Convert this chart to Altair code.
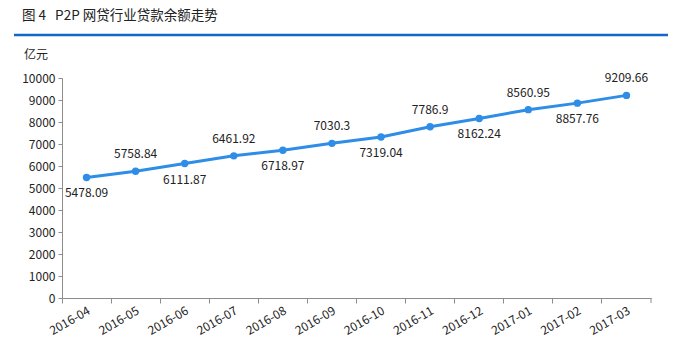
import altair as alt
import pandas as pd

months = ["2016-04", "2016-05", "2016-06", "2016-07", "2016-08", "2016-09",
          "2016-10", "2016-11", "2016-12", "2017-01", "2017-02", "2017-03"]
balance = [5478.09, 5758.84, 6111.87, 6461.92, 6718.97, 7030.3,
           7319.04, 7786.9, 8162.24, 8560.95, 8857.76, 9209.66]
labels = ["5478.09", "5758.84", "6111.87", "6461.92", "6718.97", "7030.3",
          "7319.04", "7786.9", "8162.24", "8560.95", "8857.76", "9209.66"]
y_ticks = list(range(0, 10001, 1000))
title_text = ["图\u00a04\u00a0\u00a0\u00a0P2P\u00a0网贷行业贷款余额走势"]
unit_text = ["亿元"]

df = pd.DataFrame({"month": months, "value": balance, "label": labels})

FONT = "Noto Sans CJK SC"
W, H = 589, 220
LINE_COLOR = "#2e8de6"
AXIS_COLOR = "#8c8c8c"

x_enc = alt.X("month:N", sort=months,
              scale=alt.Scale(type="band", paddingInner=0, paddingOuter=0),
              axis=alt.Axis(title=None, bandPosition=0, labelOffset=0,
                            labelAngle=-30, labelAlign="right", labelBaseline="top",
                            labelPadding=2, tickSize=5, labelFontSize=12,
                            labelColor="#222", domainColor=AXIS_COLOR,
                            tickColor=AXIS_COLOR, grid=False, labelFont=FONT))
y_enc = alt.Y("value:Q", scale=alt.Scale(domain=[0, 10000], nice=False),
              axis=alt.Axis(title=None, values=y_ticks, format="d", tickSize=4,
                            labelFontSize=12, labelColor="#222", domainColor=AXIS_COLOR,
                            tickColor=AXIS_COLOR, grid=False, labelPadding=3,
                            labelFont=FONT))

base = alt.Chart(df).encode(x=x_enc, y=y_enc)

line = base.mark_line(color=LINE_COLOR, strokeWidth=3)
points = base.mark_circle(color=LINE_COLOR, size=55, opacity=1)

lab_base = base.transform_window(idx="row_number()")
below = lab_base.transform_filter("datum.idx % 2 == 1").mark_text(
    dy=16, fontSize=12, font=FONT, color="#222").encode(text="label:N")
above = lab_base.transform_filter("datum.idx % 2 == 0").mark_text(
    dy=-17, fontSize=12, font=FONT, color="#222").encode(text="label:N")

end_tick = alt.Chart(pd.DataFrame({"t": [0]})).mark_rule(
    color=AXIS_COLOR, strokeWidth=1).encode(
    x=alt.value(W), y=alt.value(H), y2=alt.value(H + 5))

title = alt.Chart(pd.DataFrame({"t": title_text})).mark_text(
    align="left", baseline="middle", fontSize=13.5, font=FONT, color="#222").encode(
    text="t:N", x=alt.value(-40), y=alt.value(-62))

blue_rule = alt.Chart(pd.DataFrame({"t": [0]})).mark_rule(
    color="#1268c4", strokeWidth=2.5).encode(
    x=alt.value(-48), x2=alt.value(W + 17), y=alt.value(-43))

unit = alt.Chart(pd.DataFrame({"t": unit_text})).mark_text(
    align="left", baseline="middle", fontSize=12, font=FONT, color="#222").encode(
    text="t:N", x=alt.value(-38), y=alt.value(-23))

chart = alt.layer(line, points, below, above, end_tick, title, blue_rule, unit).properties(
    width=W, height=H,
    autosize=alt.AutoSizeParams(type="none"),
    padding={"left": 62, "top": 78, "right": 28, "bottom": 58},
    background="white",
).configure_view(stroke=None)

chart.save("out.html", embed_options={"renderer": "svg", "actions": False})
